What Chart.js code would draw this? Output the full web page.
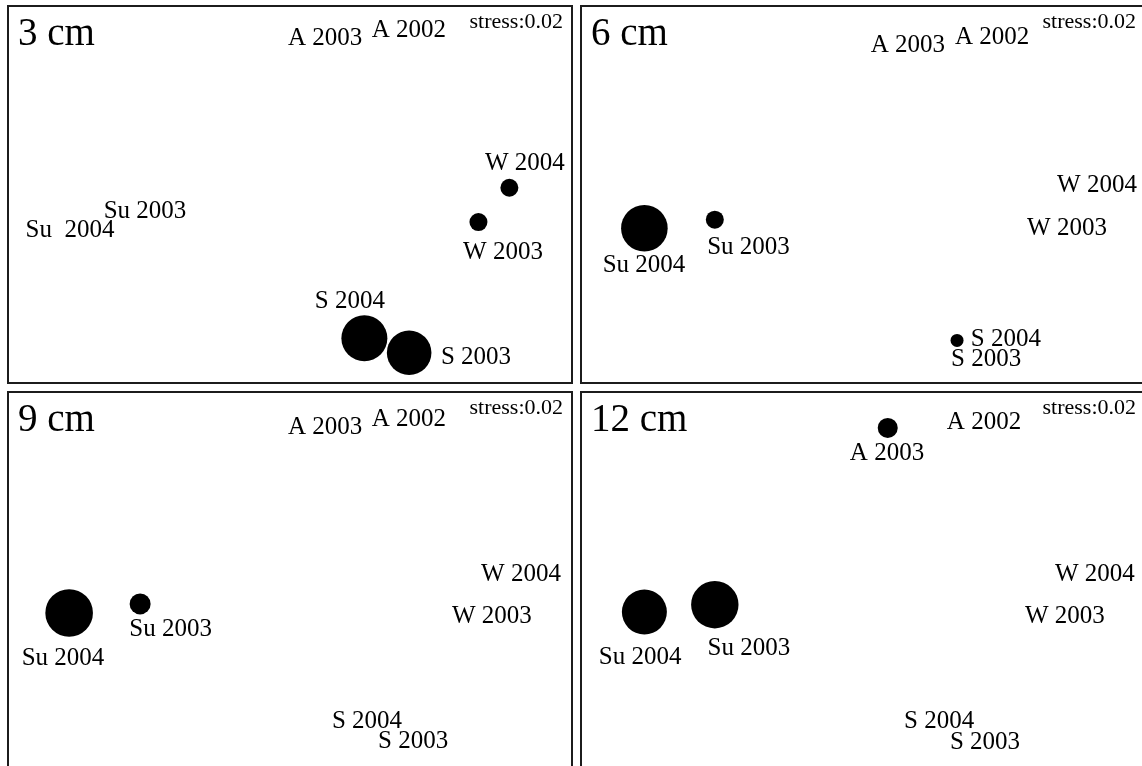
<!DOCTYPE html>
<html>
<head>
<meta charset="utf-8">
<script src="https://cdn.jsdelivr.net/npm/chart.js@4.4.1/dist/chart.umd.min.js"></script>
<style>
  html, body { margin: 0; padding: 0; background: #fff; overflow: hidden; width: 1142px; height: 766px; }
  .panel { position: absolute; width: 566px; height: 379px; box-sizing: border-box; border: 2px solid #1c1c1c; background: #fff; }
  .panel canvas { display: block; }
</style>
</head>
<body>
<div class="panel" style="left:7px;top:5px"><canvas id="p3" width="562" height="375"></canvas></div>
<div class="panel" style="left:580px;top:5px"><canvas id="p6" width="562" height="375"></canvas></div>
<div class="panel" style="left:7px;top:391px"><canvas id="p9" width="562" height="375"></canvas></div>
<div class="panel" style="left:580px;top:391px"><canvas id="p12" width="562" height="375"></canvas></div>
<script>
// MDS ordination axes (same extent in every panel)
const axis1Range = [-1.5, 1.5];
const axis2Range = [-1, 1];

const depths = ['3 cm', '6 cm', '9 cm', '12 cm'];
const stress = [0.02, 0.02, 0.02, 0.02];

// sample order used by the label arrays below
const samples = ['A 2002', 'A 2003', 'W 2003', 'W 2004', 'S 2003', 'S 2004', 'Su 2003', 'Su 2004'];

// ---- 3 cm ----
const cm3Labels = ['A 2002', 'A 2003', 'W 2003', 'W 2004', 'S 2003', 'S 2004', 'Su 2003', 'Su  2004'];
const cm3LabelX = [0.635, 0.187, 1.137, 1.254, 0.993, 0.320, -0.774, -1.174];
const cm3LabelY = [0.840, 0.797, -0.344, 0.131, -0.904, -0.605, -0.125, -0.227];
const cm3Bubbles = ['W 2003', 'W 2004', 'S 2003', 'S 2004'];
const cm3BubbleX = [1.006, 1.171, 0.636, 0.397];
const cm3BubbleY = [-0.147, 0.036, -0.844, -0.767];
const cm3BubbleR = [9, 9, 22.3, 23];

// ---- 6 cm ----
const cm6Labels = samples;
const cm6LabelX = [0.689, 0.240, 1.089, 1.249, 0.657, 0.763, -0.611, -1.169];
const cm6LabelY = [0.803, 0.760, -0.216, 0.013, -0.915, -0.808, -0.317, -0.413];
const cm6Bubbles = ['Su 2004', 'Su 2003', 'S 2004'];
const cm6BubbleX = [-1.167, -0.791, 0.502];
const cm6BubbleY = [-0.180, -0.134, -0.778];
const cm6BubbleR = [23.3, 9, 6.5];

// ---- 9 cm ----
const cm9Labels = samples;
const cm9LabelX = [0.635, 0.187, 1.078, 1.233, 0.657, 0.411, -0.637, -1.212];
const cm9LabelY = [0.824, 0.781, -0.227, -0.003, -0.893, -0.787, -0.296, -0.451];
const cm9Bubbles = ['Su 2004', 'Su 2003'];
const cm9BubbleX = [-1.179, -0.800];
const cm9BubbleY = [-0.173, -0.125];
const cm9BubbleR = [23.8, 10.5];

// ---- 12 cm ----
const cm12Labels = samples;
const cm12LabelX = [0.646, 0.128, 1.078, 1.238, 0.651, 0.406, -0.609, -1.190];
const cm12LabelY = [0.808, 0.643, -0.227, -0.003, -0.899, -0.787, -0.397, -0.445];
const cm12Bubbles = ['A 2003', 'Su 2004', 'Su 2003'];
const cm12BubbleX = [0.132, -1.167, -0.791];
const cm12BubbleY = [0.814, -0.168, -0.129];
const cm12BubbleR = [10, 22.5, 23.7];

const panels = [
  { id: 'p3',  title: depths[0], stress: stress[0], labels: cm3Labels,  lx: cm3LabelX,  ly: cm3LabelY,  bx: cm3BubbleX,  by: cm3BubbleY,  br: cm3BubbleR,  names: cm3Bubbles },
  { id: 'p6',  title: depths[1], stress: stress[1], labels: cm6Labels,  lx: cm6LabelX,  ly: cm6LabelY,  bx: cm6BubbleX,  by: cm6BubbleY,  br: cm6BubbleR,  names: cm6Bubbles },
  { id: 'p9',  title: depths[2], stress: stress[2], labels: cm9Labels,  lx: cm9LabelX,  ly: cm9LabelY,  bx: cm9BubbleX,  by: cm9BubbleY,  br: cm9BubbleR,  names: cm9Bubbles },
  { id: 'p12', title: depths[3], stress: stress[3], labels: cm12Labels, lx: cm12LabelX, ly: cm12LabelY, bx: cm12BubbleX, by: cm12BubbleY, br: cm12BubbleR, names: cm12Bubbles }
];

const SERIF = '"Liberation Serif", "Times New Roman", serif';
const panelById = {};
panels.forEach(p => { panelById[p.id] = p; });

// sample names, depth title and stress value drawn on top of the bubbles
const sampleText = {
  id: 'sampleText',
  afterDatasetsDraw(chart) {
    const p = panelById[chart.canvas.id];
    const { ctx, chartArea, scales } = chart;
    ctx.save();
    ctx.fillStyle = '#000';
    ctx.textBaseline = 'alphabetic';

    ctx.font = '25px ' + SERIF;
    ctx.textAlign = 'center';
    p.labels.forEach((t, i) => {
      ctx.fillText(t, scales.x.getPixelForValue(p.lx[i]), scales.y.getPixelForValue(p.ly[i]));
    });

    ctx.font = '39px ' + SERIF;
    ctx.textAlign = 'left';
    ctx.fillText(p.title, chartArea.left + 9, chartArea.top + 38);

    ctx.font = '22px ' + SERIF;
    ctx.textAlign = 'right';
    ctx.fillText('stress:' + p.stress.toFixed(2), chartArea.right - 8, chartArea.top + 21);
    ctx.restore();
  }
};

panels.forEach(p => {
  new Chart(document.getElementById(p.id), {
    type: 'bubble',
    data: {
      datasets: [{
        label: p.title,
        data: p.bx.map((x, i) => ({ x: x, y: p.by[i], r: p.br[i], name: p.names[i] })),
        backgroundColor: '#000',
        borderColor: '#000',
        borderWidth: 0,
        hoverRadius: 0,
        clip: false
      }]
    },
    options: {
      responsive: false,
      animation: false,
      events: [],
      layout: { autoPadding: false, padding: 0 },
      scales: {
        x: { type: 'linear', min: axis1Range[0], max: axis1Range[1], display: false },
        y: { type: 'linear', min: axis2Range[0], max: axis2Range[1], display: false }
      },
      plugins: {
        legend: { display: false },
        tooltip: { enabled: false },
        title: { display: false }
      }
    },
    plugins: [sampleText]
  });
});
</script>
</body>
</html>
